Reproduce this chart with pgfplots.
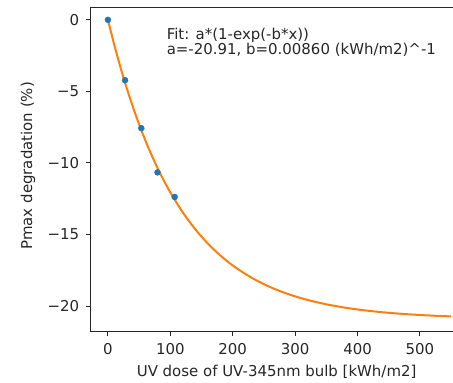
\documentclass[border=0pt]{standalone}
\usepackage{pgfplots}
\pgfplotsset{compat=1.18}
\usepackage{fontspec}
\setmainfont{DejaVu Sans}
\definecolor{mblue}{HTML}{1F77B4}
\definecolor{morange}{HTML}{FF7F0E}
\begin{document}
\begin{tikzpicture}
\begin{axis}[
  scale only axis, width=370bp, height=324bp,
  xmin=-27.5, xmax=565.8, ymin=-21.76, ymax=0.897,
  xtick pos=left, ytick pos=left,
  tick align=outside, major tick length=5bp,
  every tick/.style={black!85, line width=0.9bp},
  axis line style={line width=0.9bp, black!85},
  xtick={0,100,200,300,400,500},
  ytick={-20,-15,-10,-5,0},
  yticklabels={−20,−15,−10,−5,0},
  /pgf/number format/assume math mode=true,
  tick label style={font=\fontsize{15}{18}\selectfont, text=black!85},
  yticklabel style={xshift=-3bp},
  xticklabel style={yshift=-4bp},
  xlabel={UV dose of UV-345nm bulb [kWh/m2]},
  ylabel={Pmax degradation (\%)},
  label style={font=\fontsize{15}{18}\selectfont, text=black!85},
  xlabel style={at={(axis description cs:0.502,0)}, anchor=center, yshift=-41bp},
  ylabel style={at={(axis description cs:-0.1695,0.51)}, anchor=center},
]
\addplot[only marks, mark=*, mark size=3bp, mark options={draw=mblue, fill=mblue}] coordinates {
  (0,0) (27.5,-4.22) (53.5,-7.57) (79.5,-10.66) (107,-12.38)
};
\addplot[morange, line width=2bp, smooth] coordinates {
  (0,0) (10,-1.7232) (20,-3.3042) (30,-4.7549) (40,-6.0865) (50,-7.3078)
  (60,-8.4288) (70,-9.4572) (80,-10.4011) (90,-11.2669) (100,-12.0617)
  (120,-13.4600) (140,-14.6374) (160,-15.6288) (180,-16.4633) (200,-17.1656)
  (225,-17.8898) (250,-18.4744) (275,-18.9455) (300,-19.3256) (325,-19.6322)
  (350,-19.8793) (375,-20.0788) (400,-20.2396) (425,-20.3693) (450,-20.4738)
  (475,-20.5583) (500,-20.6263) (525,-20.6812) (550,-20.7254)
};
\node[anchor=north west, inner sep=0pt, align=left, font=\fontsize{15}{15.5}\selectfont, text=black!85]
  at (axis cs:94,-0.55) {Fit: a*(1-exp(-b*x))\\a=-20.91, b=0.00860 (kWh/m2)\^{}-1};
\end{axis}
\pgfresetboundingbox
\useasboundingbox ([xshift=-90.7bp,yshift=-51bp]current axis.south west) rectangle ([xshift=-8bp,yshift=7bp]current axis.north east);
\end{tikzpicture}
\end{document}
